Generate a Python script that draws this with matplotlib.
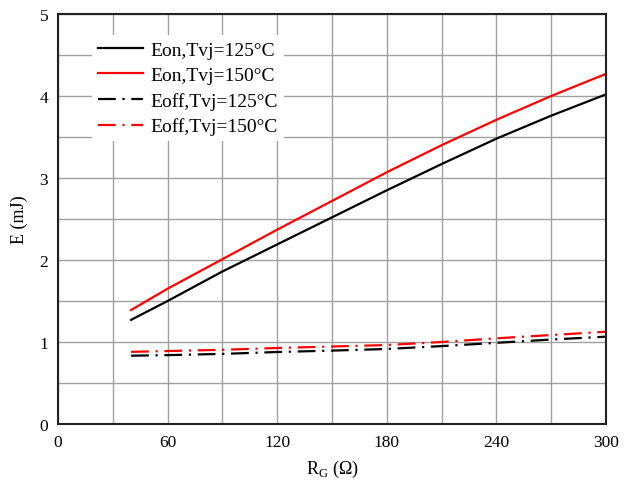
import matplotlib
matplotlib.use("Agg")
import matplotlib.pyplot as plt
import numpy as np

plt.rcParams['font.family'] = ['Liberation Serif', 'DejaVu Serif']
plt.rcParams['mathtext.fontset'] = 'custom'
plt.rcParams['mathtext.rm'] = 'Liberation Serif'

rg = [40, 60, 90, 120, 150, 180, 210, 240, 270, 300]
eon_125 = [1.27, 1.50, 1.86, 2.19, 2.52, 2.85, 3.17, 3.48, 3.76, 4.02]
eon_150 = [1.39, 1.65, 2.01, 2.37, 2.72, 3.07, 3.40, 3.71, 4.00, 4.27]
eoff_125 = [0.833, 0.84, 0.855, 0.878, 0.895, 0.915, 0.95, 0.99, 1.03, 1.065]
eoff_150 = [0.88, 0.89, 0.905, 0.927, 0.945, 0.963, 1.0, 1.045, 1.085, 1.125]
labels = ['Eon,Tvj=125°C', 'Eon,Tvj=150°C', 'Eoff,Tvj=125°C', 'Eoff,Tvj=150°C']

fig = plt.figure(figsize=(6.27, 4.85), dpi=100)
ax = fig.add_axes([58/627, 60/485, 548/627, 410/485])

dd = (8, 3, 1, 3)
ax.plot(rg, eon_125, color='black', lw=1.6, label=labels[0])
ax.plot(rg, eon_150, color='red', lw=1.6, label=labels[1])
ax.plot(rg, eoff_125, color='black', lw=1.6, dashes=dd, label=labels[2])
ax.plot(rg, eoff_150, color='red', lw=1.6, dashes=dd, label=labels[3])

ax.set_xlim(0, 300)
ax.set_ylim(0, 5)
ax.set_xticks(np.arange(0, 301, 60))
ax.set_xticks(np.arange(0, 301, 30), minor=True)
ax.set_yticks(np.arange(0, 5.1, 1))
ax.set_yticks(np.arange(0, 5.1, 0.5), minor=True)
ax.grid(True, which='both', color='#a0a0a0', lw=1.0)
ax.set_axisbelow(True)
ax.tick_params(which='both', length=0, labelsize=12.5, pad=7)
for s in ax.spines.values():
    s.set_linewidth(1.5)
    s.set_color('#222222')

ax.set_xlabel(r'R$_\mathregular{G}$ (Ω)', fontsize=13, labelpad=6)
ax.set_ylabel('E (mJ)', fontsize=13, labelpad=8)

leg = ax.legend(loc='upper left', bbox_to_anchor=(0.045, 0.972), frameon=True,
                fontsize=14, handlelength=2.3, labelspacing=0.4,
                borderpad=0.3, handletextpad=0.4)
leg.get_frame().set_edgecolor('none')
leg.get_frame().set_facecolor('white')
leg.get_frame().set_alpha(1)

fig.savefig('out.png', dpi=100)
